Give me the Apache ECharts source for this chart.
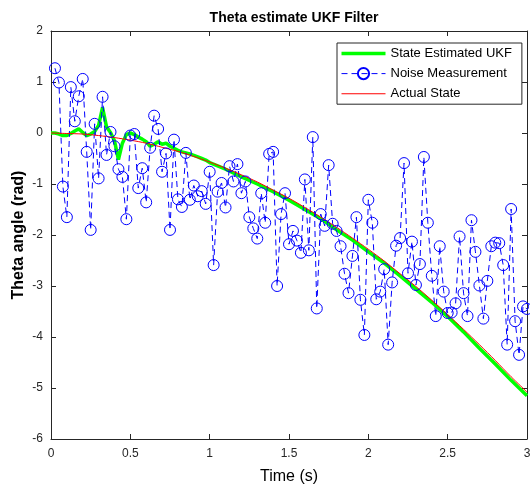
<!DOCTYPE html>
<html>
<head>
<meta charset="utf-8">
<script src="https://cdn.jsdelivr.net/npm/echarts@6/dist/echarts.min.js"></script>
<style>html,body{margin:0;padding:0;background:#fff}#c{width:530px;height:489px}</style>
</head>
<body>
<div id="c"></div>
<script>
// ---- data ----
const seriesNames = ['State Estimated UKF', 'Noise Measurement', 'Actual State'];
const xTicks = [0, 0.5, 1, 1.5, 2, 2.5, 3];
const yTicks = [-6, -5, -4, -3, -2, -1, 0, 1, 2];

// measurement sample step (s); samples k = 1..120
const measStep = 0.025;
const measValues = [
  1.27, 0.99, -1.05, -1.65, 0.90, 0.23, 0.72, 1.06, -0.37, -1.90,
  0.18, -0.89, 0.71, -0.43, 0.02, -0.26, -0.71, -0.86, -1.69, -0.05,
  -0.02, -1.08, -0.69, -1.36, -0.29, 0.34, 0.08, -0.76, -0.40, -1.90,
  -0.13, -1.30, -1.45, -0.39, -1.31, -1.03, -1.24, -1.14, -1.39, -0.76,
  -2.59, -1.15, -0.98, -1.46, -0.65, -0.95, -0.61, -1.18, -0.95, -1.65,
  -1.87, -2.07, -1.18, -1.76, -0.41, -0.37, -3.00, -1.59, -1.18, -2.18,
  -1.92, -2.11, -2.35, -0.91, -2.30, -0.08, -3.44, -1.59, -1.82, -0.63,
  -1.78, -1.92, -2.22, -2.76, -3.14, -2.41, -1.65, -3.27, -3.96, -1.31,
  -1.76, -3.26, -3.11, -2.67, -4.15, -2.93, -2.21, -2.06, -0.59, -2.75,
  -2.13, -2.98, -2.57, -0.47, -1.76, -2.80, -3.59, -2.22, -3.11, -3.53,
  -3.52, -3.34, -2.03, -3.14, -3.59, -1.71, -2.33, -2.99, -3.64, -2.90,
  -2.22, -2.15, -2.16, -2.59, -4.15, -1.49, -3.69, -4.35, -3.40, -3.45
];

const ukfTime = [
  0, 0.025, 0.05, 0.075, 0.1, 0.125, 0.15, 0.175, 0.2, 0.225,
  0.25, 0.275, 0.3, 0.325, 0.35, 0.375, 0.4, 0.425, 0.45, 0.475,
  0.5, 0.525, 0.55, 0.575, 0.6, 0.625, 0.65, 0.675, 0.7, 0.725,
  0.75, 0.775, 0.8, 0.825, 0.85, 0.875, 0.9, 0.925, 0.95, 0.975,
  1.0, 1.1, 1.2, 1.3, 1.4, 1.5, 1.6, 1.7, 1.8, 1.9,
  2.0, 2.1, 2.2, 2.3, 2.4, 2.5, 2.6, 2.7, 2.8, 2.9, 3.0
];
const ukfValues = [
  0.00, 0.00, -0.02, -0.05, -0.05, -0.01, 0.04, 0.08, 0.01, -0.05,
  -0.02, 0.03, 0.15, 0.50, 0.12, 0.01, -0.15, -0.52, -0.20, -0.03,
  0.00, -0.03, -0.08, -0.12, -0.17, -0.26, -0.22, -0.17, -0.22, -0.20,
  -0.26, -0.30, -0.34, -0.37, -0.39, -0.41, -0.44, -0.47, -0.50, -0.53,
  -0.58, -0.71, -0.86, -1.00, -1.15, -1.32, -1.50, -1.68, -1.90, -2.10,
  -2.33, -2.55, -2.80, -3.06, -3.32, -3.60, -3.90, -4.22, -4.53, -4.85, -5.15
];

const actualTime = [
  0, 0.1, 0.2, 0.3, 0.4, 0.5, 0.6, 0.7, 0.8, 0.9, 1.0,
  1.1, 1.2, 1.3, 1.4, 1.5, 1.6, 1.7, 1.8, 1.9, 2.0,
  2.1, 2.2, 2.3, 2.4, 2.5, 2.6, 2.7, 2.8, 2.9, 3.0
];
const actualValues = [
  0.00, -0.01, -0.02, -0.05, -0.09, -0.14, -0.20, -0.28, -0.36, -0.46, -0.57,
  -0.69, -0.82, -0.96, -1.12, -1.28, -1.46, -1.65, -1.85, -2.06, -2.28,
  -2.51, -2.76, -3.01, -3.28, -3.56, -3.85, -4.15, -4.46, -4.78, -5.08
];

// ---- build ----
const FONT = 'Liberation Sans, Arial, Helvetica, sans-serif';
const measData = measValues.map((v, i) => [+(((i + 1) * measStep).toFixed(3)), v]);
const ukfData = ukfTime.map((t, i) => [t, ukfValues[i]]);
const actualData = actualTime.map((t, i) => [t, actualValues[i]]);

const axisColor = '#262626';
const grid = { left: 51, right: 3, top: 31, bottom: 50, containLabel: false, outerBoundsMode: 'none' };

function xAx(pos, show) {
  return {
    type: 'value', position: pos, min: xTicks[0], max: xTicks[xTicks.length - 1], interval: 0.5,
    gridIndex: 0,
    axisLine: { show: true, onZero: false, lineStyle: { color: axisColor, width: 1 } },
    axisTick: { show: true, inside: true, length: 5, lineStyle: { color: axisColor } },
    axisLabel: { show: show, color: '#262626', fontSize: 12, fontFamily: FONT, margin: 9 },
    splitLine: { show: false },
    name: show ? 'Time (s)' : '', nameLocation: 'middle', nameGap: 30, nameMoveOverlap: false,
    nameTextStyle: { color: '#000', fontSize: 16, fontFamily: FONT }
  };
}
function yAx(pos, show) {
  return {
    type: 'value', position: pos, min: yTicks[0], max: yTicks[yTicks.length - 1], interval: 1,
    gridIndex: 0,
    axisLine: { show: true, onZero: false, lineStyle: { color: axisColor, width: 1 } },
    axisTick: { show: true, inside: true, length: 5, lineStyle: { color: axisColor } },
    axisLabel: { show: show, color: '#262626', fontSize: 12, fontFamily: FONT, margin: 8 },
    splitLine: { show: false },
    name: show ? 'Theta angle (rad)' : '', nameLocation: 'middle', nameGap: 24, nameMoveOverlap: false,
    nameTextStyle: { color: '#000', fontSize: 16, fontWeight: 'bold', fontFamily: FONT }
  };
}

const chart = echarts.init(document.getElementById('c'), null, { renderer: 'canvas' });
chart.setOption({
  animation: false,
  backgroundColor: '#fff',
  title: {
    text: 'Theta estimate UKF Filter', left: 289, top: 6, textAlign: 'center',
    textStyle: { fontSize: 14, fontWeight: 'bold', color: '#000', fontFamily: FONT }
  },
  grid: grid,
  legend: {
    data: [
      { name: seriesNames[0], icon: 'path://M0,0L44,0L44,3.5L0,3.5Z' },
      { name: seriesNames[1] },
      { name: seriesNames[2], icon: 'path://M0,0L44,0L44,1L0,1Z' }
    ],
    orient: 'vertical', left: 337, top: 43,
    padding: [4, 10, 4, 4], itemGap: 7, itemWidth: 44, itemHeight: 14,
    borderColor: '#262626', borderWidth: 1, backgroundColor: '#fff',
    lineStyle: { width: 1 },
    textStyle: { fontSize: 13, color: '#000', fontFamily: FONT }
  },
  xAxis: [xAx('bottom', true), xAx('top', false)],
  yAxis: [yAx('left', true), yAx('right', false)],
  series: [
    {
      name: seriesNames[0], type: 'line', data: ukfData, xAxisIndex: 0, yAxisIndex: 0,
      symbol: 'none', color: '#00ff00',
      lineStyle: { color: '#00ff00', width: 3.5 }
    },
    {
      name: seriesNames[1], type: 'line', data: measData, xAxisIndex: 0, yAxisIndex: 0,
      symbol: 'circle', symbolSize: 11, showAllSymbol: true, color: '#0000ff',
      itemStyle: { color: 'rgba(0,0,0,0)', borderColor: '#0000ff', borderWidth: 1 },
      lineStyle: { color: '#0000ff', width: 1, type: [6, 4] }
    },
    {
      name: seriesNames[2], type: 'line', data: actualData, xAxisIndex: 0, yAxisIndex: 0,
      symbol: 'none', color: '#ff0000', smooth: 0.3,
      lineStyle: { color: '#ff0000', width: 1 }
    }
  ]
});
</script>
</body>
</html>
